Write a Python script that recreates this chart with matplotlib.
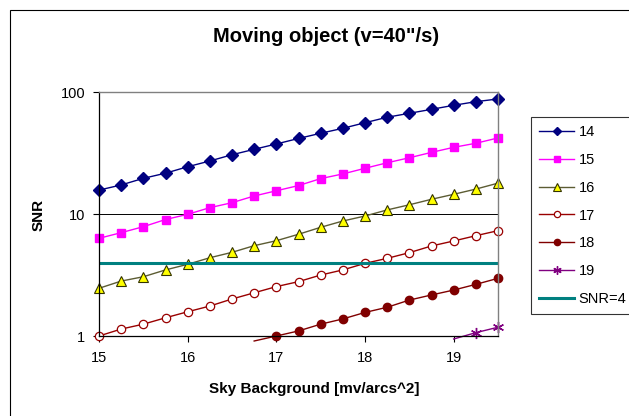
import matplotlib
matplotlib.use("Agg")
import matplotlib.pyplot as plt
import numpy as np
from matplotlib.patches import Rectangle
from matplotlib.ticker import NullLocator

plt.rcParams["font.family"] = ["Liberation Sans", "DejaVu Sans"]

# sky background (mv/arcs^2)
sky = [15.0, 15.25, 15.5, 15.75, 16.0, 16.25, 16.5, 16.75, 17.0, 17.25,
       17.5, 17.75, 18.0, 18.25, 18.5, 18.75, 19.0, 19.25, 19.5]

nan = np.nan
snr_14 = [15.7, 17.3, 19.6, 21.6, 24.4, 27.2, 30.6, 33.9, 37.5, 41.6,
          45.9, 50.4, 56.0, 62.1, 66.9, 72.1, 77.8, 83.3, 87.7]
snr_15 = [6.32, 7.03, 7.87, 9.01, 9.94, 11.27, 12.38, 14.05, 15.5, 17.1,
          19.5, 21.3, 23.7, 26.3, 28.9, 32.0, 35.2, 38.0, 42.0]
snr_16 = [2.46, 2.82, 3.06, 3.48, 3.87, 4.38, 4.85, 5.50, 6.04, 6.82,
          7.78, 8.76, 9.63, 10.8, 11.9, 13.2, 14.5, 16.0, 17.9]
snr_17 = [1.0, 1.14, 1.25, 1.41, 1.58, 1.76, 2.01, 2.26, 2.54, 2.79,
          3.16, 3.48, 3.94, 4.33, 4.82, 5.47, 6.01, 6.64, 7.30]
snr_18 = [nan, nan, nan, nan, nan, nan, nan, 0.91, 1.0, 1.10,
          1.25, 1.38, 1.56, 1.72, 1.97, 2.17, 2.38, 2.65, 2.97]
snr_19 = [nan, nan, nan, nan, nan, nan, nan, nan, nan, nan,
          nan, nan, nan, nan, nan, nan, 0.945, 1.065, 1.18]
snr_limit = [4] * len(sky)

series = [
    ("14", snr_14, dict(color="#000080", marker="D", ms=6, mfc="#000080", mec="#000080")),
    ("15", snr_15, dict(color="#FF00FF", marker="s", ms=6, mfc="#FF00FF", mec="#FF00FF")),
    ("16", snr_16, dict(color="#5c5c33", marker="^", ms=7, mfc="#FFFF00", mec="#333300", mew=0.8)),
    ("17", snr_17, dict(color="#990000", marker="o", ms=6, mfc="white", mec="#990000", mew=0.9)),
    ("18", snr_18, dict(color="#800000", marker="o", ms=6, mfc="#800000", mec="#800000")),
    ("19", snr_19, dict(color="#800080", marker=(6, 2, 0), ms=8, mfc="#800080", mec="#800080", mew=1.0)),
]

fig = plt.figure(figsize=(6.29, 4.16), dpi=100)
ax = fig.add_axes([99 / 629, 1 - 336 / 416, (498 - 99) / 629, (336 - 92) / 416])

for label, vals, style in series:
    vals = np.array(vals, dtype=float)
    shown = list(np.nan_to_num(vals) >= 0.99)
    ax.plot(sky, vals, lw=1.0, label=label, markevery=shown, clip_on=False, **style)

ax.plot(sky, snr_limit, color="#008080", lw=2.2, label="SNR=4")

ax.set_yscale("log")
ax.set_xlim(15, 19.5)
ax.set_ylim(1, 100)
ax.set_xticks([15, 16, 17, 18, 19])
ax.set_yticks([1, 10, 100], labels=["1", "10", "100"])
ax.yaxis.set_minor_locator(NullLocator())
ax.tick_params(axis="both", direction="out", length=4, width=0.8, labelsize=10.5, color="black")
ax.tick_params(axis="x", pad=7)
ax.tick_params(axis="y", pad=6)

ax.yaxis.grid(True, color="black", lw=0.7)
ax.set_axisbelow(True)
for side in ("top", "right"):
    ax.spines[side].set_color("#808080")
    ax.spines[side].set_linewidth(1.0)
for side in ("left", "bottom"):
    ax.spines[side].set_color("black")
    ax.spines[side].set_linewidth(0.9)

ax.set_xlabel("Sky Background [mv/arcs^2]", fontsize=11, fontweight="bold")
ax.xaxis.set_label_coords((314 - 99) / 399, (336 - 389) / 244)
ax.xaxis.label.set_va("center")
ax.set_ylabel("SNR", fontsize=11, fontweight="bold")
ax.yaxis.set_label_coords((39 - 99) / 399, (336 - 214.5) / 244)
ax.yaxis.label.set_va("center")

fig.text(326.5 / 629, 1 - 36 / 416, 'Moving object (v=40"/s)', fontsize=14.5,
         fontweight="bold", ha="center", va="center")

leg = ax.legend(loc="upper left", bbox_to_anchor=(531 / 629, 1 - 117 / 416),
                bbox_transform=fig.transFigure, fontsize=10.5, frameon=True,
                fancybox=False, handlelength=2.4, handletextpad=0.3,
                labelspacing=0.95, borderpad=0.55, borderaxespad=0, markerscale=0.75)
leg.get_frame().set_edgecolor("black")
leg.get_frame().set_linewidth(0.8)

# outer chart border, runs off the right and bottom edges
fig.add_artist(Rectangle((10 / 629, -0.1), 2.0, 1.1 - 10 / 416, transform=fig.transFigure,
                         fill=False, edgecolor="black", lw=0.8))

fig.savefig("out.png", dpi=100)
